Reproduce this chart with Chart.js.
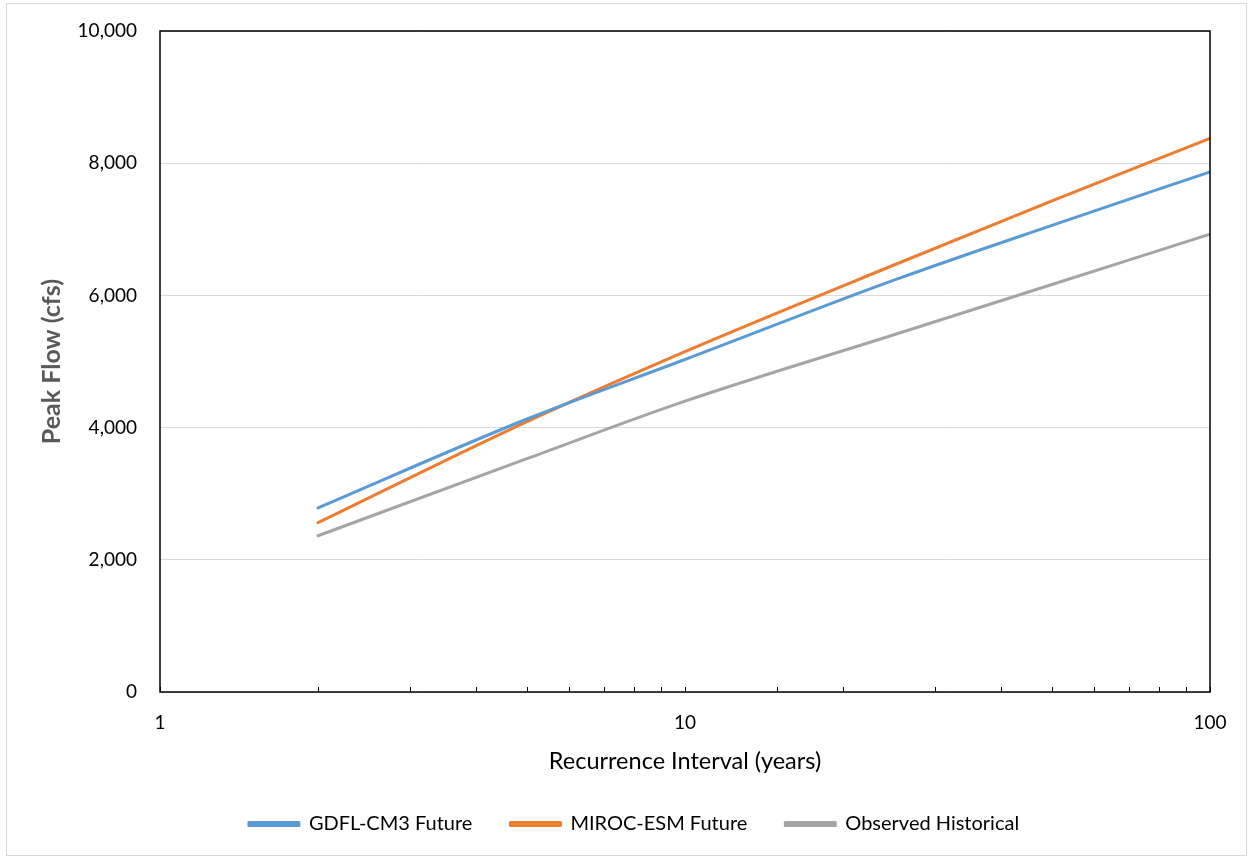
<!DOCTYPE html>
<html>
<head>
<meta charset="utf-8">
<script src="https://cdn.jsdelivr.net/npm/chart.js@4/dist/chart.umd.min.js"></script>
<style>
  html, body { margin: 0; padding: 0; background: #ffffff; }
  #wrap { width: 1249px; height: 858px; }
</style>
</head>
<body>
<div id="wrap"><canvas id="c" width="1249" height="858"></canvas></div>
<script>
// Data
const recurrenceYears = [2, 5, 10, 25, 50, 100];
const gdflFuture      = [2786, 4130, 5030, 6230, 7060, 7868];
const mirocFuture     = [2561, 4090, 5150, 6460, 7430, 8377];
const observedHist    = [2364, 3530, 4400, 5405, 6165, 6925];
const xLabelValues    = [1, 10, 100];
const seriesNames     = ['GDFL-CM3 Future', 'MIROC-ESM Future', 'Observed Historical'];
const seriesColors    = ['#5B9BD5', '#ED7D31', '#A5A5A5'];

const FONT = 'Lato, "Open Sans", "DejaVu Sans", sans-serif';

function toPoints(vals) {
  return recurrenceYears.map((x, i) => ({ x: x, y: vals[i] }));
}

const frame = {
  id: 'frame',
  beforeDraw(chart) {
    const ctx = chart.ctx;
    ctx.save();
    ctx.fillStyle = '#ffffff';
    ctx.fillRect(0, 0, chart.width, chart.height);
    ctx.strokeStyle = '#d9d9d9';
    ctx.lineWidth = 1;
    ctx.strokeRect(6.5, 3.5, 1240, 852);
    ctx.restore();
  },
  afterDatasetsDraw(chart) {
    const ctx = chart.ctx;
    const a = chart.chartArea;
    const xs = chart.scales.x;
    ctx.save();
    ctx.strokeStyle = '#000000';
    ctx.lineWidth = 1;
    xs.ticks.forEach(t => {
      const px = Math.round(xs.getPixelForValue(t.value)) + 0.5;
      ctx.beginPath();
      ctx.moveTo(px, a.bottom);
      ctx.lineTo(px, a.bottom - 5);
      ctx.stroke();
    });
    ctx.lineWidth = 1.5;
    ctx.strokeRect(a.left, a.top, a.right - a.left, a.bottom - a.top);
    ctx.restore();
  }
};

new Chart(document.getElementById('c'), {
  type: 'line',
  data: {
    datasets: [
      { label: seriesNames[0], data: toPoints(gdflFuture), borderColor: seriesColors[0], backgroundColor: seriesColors[0] },
      { label: seriesNames[1], data: toPoints(mirocFuture), borderColor: seriesColors[1], backgroundColor: seriesColors[1] },
      { label: seriesNames[2], data: toPoints(observedHist), borderColor: seriesColors[2], backgroundColor: seriesColors[2] }
    ]
  },
  options: {
    responsive: false,
    animation: false,
    devicePixelRatio: 1,
    layout: { padding: { left: 19, right: 0, top: 28, bottom: 14 } },
    elements: {
      line: { borderWidth: 3, cubicInterpolationMode: 'monotone', borderCapStyle: 'round', borderJoinStyle: 'round' },
      point: { radius: 0, hoverRadius: 0 }
    },
    scales: {
      x: {
        type: 'logarithmic',
        min: 1,
        max: 100,
        grid: { display: false, drawTicks: false },
        border: { display: false },
        ticks: {
          autoSkip: false,
          maxRotation: 0,
          padding: 19,
          color: '#000000',
          font: { family: FONT, size: 19 },
          callback: (v) => xLabelValues.includes(v) ? String(v) : ''
        },
        title: {
          display: true,
          text: 'Recurrence Interval (years)',
          color: '#000000',
          font: { family: FONT, size: 23.5, lineHeight: 1 },
          padding: { top: 0, bottom: 3.25 }
        },
        afterFit(scale) { scale.height = 84; }
      },
      y: {
        min: 0,
        max: 10000,
        grid: { color: '#d9d9d9', lineWidth: 1, drawTicks: false },
        border: { display: false },
        ticks: {
          stepSize: 2000,
          padding: 23,
          color: '#000000',
          font: { family: FONT, size: 19, lineHeight: '16px' },
          callback: (v) => v.toLocaleString('en-US')
        },
        title: {
          display: true,
          text: 'Peak Flow (cfs)',
          color: '#595959',
          font: { family: FONT, size: 25, weight: 'bold', lineHeight: 1 },
          padding: { top: 20.5, bottom: 0 }
        },
        afterFit(scale) { scale.width = 141; }
      },
      yRightSpace: {
        position: 'right',
        display: true,
        min: 0,
        max: 10000,
        grid: { display: false, drawTicks: false },
        border: { display: false },
        ticks: { display: false },
        afterFit(scale) { scale.width = 39; }
      }
    },
    plugins: {
      legend: {
        position: 'bottom',
        labels: {
          boxWidth: 50,
          boxHeight: 3,
          padding: 38,
          color: '#000000',
          font: { family: FONT, size: 20 }
        }
      },
      tooltip: { enabled: false }
    }
  },
  plugins: [frame]
});
</script>
</body>
</html>
